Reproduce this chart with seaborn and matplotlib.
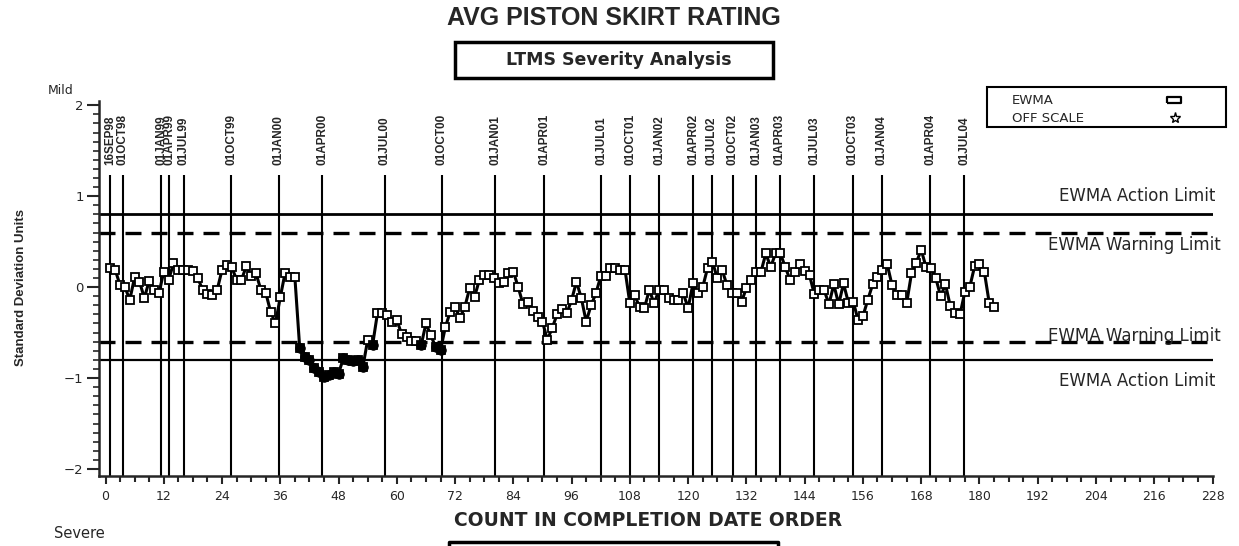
import numpy as np
import matplotlib
matplotlib.use('Agg')
import matplotlib.pyplot as plt
import seaborn as sns
from matplotlib.lines import Line2D
from matplotlib.patches import Rectangle
from matplotlib.path import Path
from matplotlib.ticker import MultipleLocator

# ---- data ----
ewma = [
    0.21, 0.19, 0.02, 0.00, -0.14, 0.11, 0.06, -0.12, 0.07, -0.03,
    -0.07, 0.17, 0.08, 0.26, 0.19, 0.19, 0.19, 0.18, 0.10, -0.03,
    -0.08, -0.09, -0.03, 0.19, 0.24, 0.22, 0.08, 0.08, 0.23, 0.12,
    0.15, -0.03, -0.06, -0.27, -0.40, -0.11, 0.16, 0.11, 0.11, -0.67,
    -0.77, -0.80, -0.89, -0.93, -0.99, -0.97, -0.93, -0.95, -0.78, -0.80,
    -0.81, -0.80, -0.88, -0.58, -0.64, -0.29, -0.29, -0.31, -0.38, -0.36,
    -0.52, -0.55, -0.59, -0.59, -0.64, -0.40, -0.53, -0.66, -0.69, -0.44,
    -0.27, -0.22, -0.34, -0.22, -0.01, -0.11, 0.08, 0.13, 0.13, 0.10,
    0.05, 0.06, 0.15, 0.17, 0.00, -0.19, -0.16, -0.26, -0.33, -0.38,
    -0.58, -0.45, -0.30, -0.24, -0.29, -0.14, 0.06, -0.12, -0.38, -0.20,
    -0.07, 0.12, 0.12, 0.21, 0.21, 0.19, 0.19, -0.18, -0.09, -0.22,
    -0.23, -0.03, -0.18, -0.03, -0.03, -0.12, -0.14, -0.14, -0.07, -0.23,
    0.04, -0.07, 0.00, 0.21, 0.28, 0.10, 0.19, 0.02, -0.07, -0.06,
    -0.16, -0.01, 0.08, 0.17, 0.17, 0.37, 0.22, 0.37, 0.37, 0.22,
    0.08, 0.17, 0.25, 0.18, 0.13, -0.08, -0.03, -0.03, -0.19, 0.03,
    -0.19, 0.04, -0.17, -0.16, -0.36, -0.32, -0.14, 0.03, 0.11, 0.19,
    0.25, 0.02, -0.09, -0.09, -0.18, 0.15, 0.27, 0.41, 0.22, 0.21,
    0.10, -0.10, 0.03, -0.21, -0.28, -0.30, -0.05, 0.00, 0.23, 0.25,
    0.17, -0.17, -0.22,
]
count = list(range(1, len(ewma) + 1))

date_labels = ['16SEP98', '01OCT98', '01JAN99', '01APR99', '01JUL99', '01OCT99',
               '01JAN00', '01APR00', '01JUL00', '01OCT00', '01JAN01', '01APR01',
               '01JUL01', '01OCT01', '01JAN02', '01APR02', '01JUL02', '01OCT02',
               '01JAN03', '01APR03', '01JUL03', '01OCT03', '01JAN04', '01APR04',
               '01JUL04']
date_counts = [0.9, 3.6, 11.5, 13.1, 16.1, 25.9, 35.7, 44.6, 57.5, 69.3, 80.3, 90.4,
               102.1, 108.1, 114.0, 121.1, 124.9, 129.2, 134.0, 138.9, 146.0, 153.9,
               159.9, 169.9, 176.9]

action_limit = 0.8
warning_limit = 0.6

# ---- style ----
sns.set_style('ticks')
plt.rcParams['font.family'] = ['DejaVu Sans']
ARIAL = ['Liberation Sans', 'DejaVu Sans']

W, H = 1239, 546
def fx(x):
    return x / W
def fy(y):
    return 1 - y / H

fig = plt.figure(figsize=(W / 100, H / 100), dpi=100)
ax = fig.add_axes([fx(99), fy(476), (1213 - 99) / W, (476 - 100.7) / H])
ax.set_xlim(-1.34, 228.1)
ax.set_ylim(-2.077, 2.05)

# limit lines
ax.axhline(action_limit, color='black', lw=2.0, zorder=2)
ax.axhline(-action_limit, color='black', lw=1.6, zorder=2)
ax.axhline(warning_limit, color='black', lw=2.4, ls=(0, (4.8, 3.0)), zorder=2)
ax.axhline(-warning_limit, color='black', lw=2.4, ls=(0, (4.8, 3.0)), zorder=2)

# date reference lines
ax.vlines(date_counts, ymin=-2.077, ymax=1.23, color='black', lw=1.5, zorder=2)
for c, lab in zip(date_counts, date_labels):
    ax.text(c, 1.34, lab, rotation=90, ha='center', va='bottom',
            fontsize=8.5, family=ARIAL, fontweight='bold')

# EWMA series
sns.lineplot(x=count, y=ewma, ax=ax, color='black', lw=2.2, marker='s',
             markersize=5.5, markerfacecolor='white', markeredgecolor='black',
             markeredgewidth=1.3, zorder=4)
low_x = [c for c, v in zip(count, ewma) if v < -warning_limit]
low_y = [v for v in ewma if v < -warning_limit]
sns.scatterplot(x=low_x, y=low_y, ax=ax, marker='o', s=48, color='black',
                edgecolor='black', zorder=5)

# axes styling
for s in ['top', 'right']:
    ax.spines[s].set_visible(False)
for s in ['left', 'bottom']:
    ax.spines[s].set_linewidth(1.8)
ax.set_xticks(range(0, 229, 12))
ax.xaxis.set_minor_locator(MultipleLocator(3))
ax.set_yticks([-2, -1, 0, 1, 2])
ax.yaxis.set_minor_locator(MultipleLocator(0.1))
ax.tick_params(axis='x', which='major', length=6, width=1.5, labelsize=9, pad=4)
ax.tick_params(axis='x', which='minor', length=4, width=1.5)
ax.tick_params(axis='y', which='major', length=9, width=1.5, labelsize=9.5, pad=2)
ax.tick_params(axis='y', which='minor', length=4, width=1.2)
ax.set_xlabel('')
ax.set_ylabel('')

# limit labels
fig.text(fx(1215), fy(196), 'EWMA Action Limit', ha='right', va='center', fontsize=12)
fig.text(fx(1221), fy(245), 'EWMA Warning Limit', ha='right', va='center', fontsize=12)
fig.text(fx(1221), fy(336), 'EWMA Warning Limit', ha='right', va='center', fontsize=12)
fig.text(fx(1215), fy(381), 'EWMA Action Limit', ha='right', va='center', fontsize=12)

# titles and labels
fig.text(fx(614), fy(18), 'AVG PISTON SKIRT RATING', ha='center', va='center',
         fontsize=18, fontweight='bold', family=ARIAL)
fig.add_artist(Rectangle((fx(455), fy(78)), (773 - 455) / W, 36 / H,
                         transform=fig.transFigure, fill=False, lw=2.5, color='black'))
fig.text(fx(619), fy(60), 'LTMS Severity Analysis', ha='center', va='center',
         fontsize=12.5, fontweight='heavy')
fig.text(fx(48), fy(91), 'Mild', ha='left', va='center', fontsize=9)
fig.text(fx(54), fy(533), 'Severe', ha='left', va='center', fontsize=10.5)
fig.text(fx(21), fy(288), 'Standard Deviation Units', rotation=90, ha='center',
         va='center', fontsize=9.5, fontweight='bold', family=ARIAL)
fig.text(fx(648), fy(521), 'COUNT IN COMPLETION DATE ORDER', ha='center', va='center',
         fontsize=13.5, fontweight='heavy')
fig.add_artist(Line2D([fx(449), fx(449), fx(778), fx(778)], [fy(548), fy(542), fy(542), fy(548)],
                      transform=fig.transFigure, color='black', lw=2.5))

# legend box
fig.add_artist(Rectangle((fx(987), fy(127)), (1226 - 987) / W, 40 / H,
                         transform=fig.transFigure, fill=False, lw=1.5, color='black'))
fig.text(fx(1012), fy(100), 'EWMA', ha='left', va='center', fontsize=9.5)
fig.text(fx(1012), fy(119), 'OFF SCALE', ha='left', va='center', fontsize=9.5)
rect_marker = Path([(-1, -0.45), (1, -0.45), (1, 0.45), (-1, 0.45), (-1, -0.45)])
fig.add_artist(Line2D([fx(1174)], [fy(100)], transform=fig.transFigure, marker=rect_marker,
                      markersize=10, markerfacecolor='white', markeredgecolor='black',
                      markeredgewidth=1.6, ls='none'))
fig.add_artist(Line2D([fx(1175)], [fy(118)], transform=fig.transFigure, marker='*',
                      markersize=8, markerfacecolor='white', markeredgecolor='black',
                      markeredgewidth=1.0, ls='none'))

fig.savefig('out.png', dpi=100)
